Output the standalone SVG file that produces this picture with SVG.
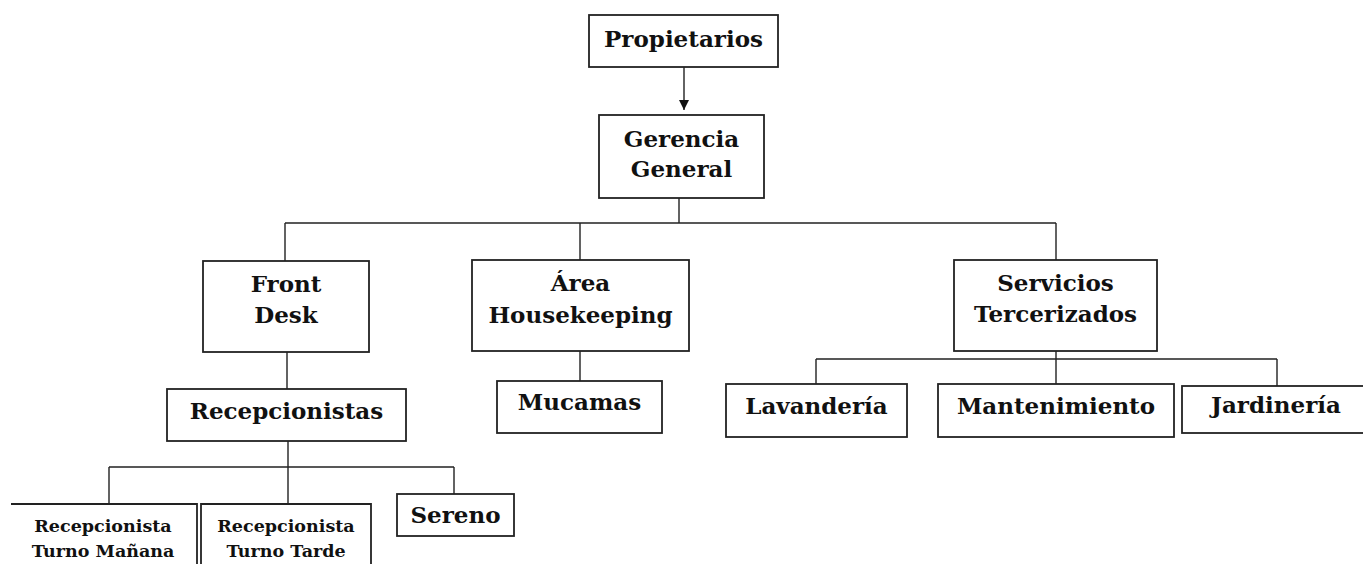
<svg xmlns="http://www.w3.org/2000/svg" width="1363" height="564" viewBox="0 0 1363 564">
<style>
.box{fill:#fff;stroke:#222;stroke-width:1.8}
.ln{fill:none;stroke:#222;stroke-width:1.4}
text{font-family:"DejaVu Serif","Liberation Serif",serif;font-weight:bold;fill:#111;text-anchor:middle}
.t{font-size:23px}
.s{font-size:17.5px}
</style>
<defs>
<marker id="ah" markerWidth="10" markerHeight="12" refX="10" refY="5" orient="auto" markerUnits="userSpaceOnUse">
<path d="M0,0 L10,5 L0,10 Z" fill="#111"/>
</marker>
</defs>
<rect width="1363" height="564" fill="#fff"/>
<g id="connectors">
<line class="ln" x1="684" y1="67" x2="684" y2="110" marker-end="url(#ah)"/>
<path class="ln" d="M679,198 V223 M285,223 H1056 M285,223 V261 M580,223 V260 M1056,223 V260"/>
<path class="ln" d="M287,352 V389 M580,351 V381"/>
<path class="ln" d="M1056,351 V384 M816,359 H1277 M816,359 V384 M1277,359 V386"/>
<path class="ln" d="M288,441 V504 M109,467 H454 M109,467 V504 M454,467 V494"/>
</g>
<g id="n-propietarios">
<rect class="box" x="589" y="15" width="189" height="52"/>
<text class="t" x="683.5" y="47">Propietarios</text>
</g>
<g id="n-gerencia">
<rect class="box" x="599" y="115" width="165" height="83"/>
<text class="t" x="681.5" y="147">Gerencia</text>
<text class="t" x="681.5" y="177">General</text>
</g>
<g id="n-frontdesk">
<rect class="box" x="203" y="261" width="166" height="91"/>
<text class="t" x="286" y="292">Front</text>
<text class="t" x="286" y="323">Desk</text>
</g>
<g id="n-housekeeping">
<rect class="box" x="472" y="260" width="217" height="91"/>
<text class="t" x="580.5" y="291">Área</text>
<text class="t" x="580.5" y="323">Housekeeping</text>
</g>
<g id="n-servicios">
<rect class="box" x="954" y="260" width="203" height="91"/>
<text class="t" x="1055.5" y="291">Servicios</text>
<text class="t" x="1055.5" y="322">Tercerizados</text>
</g>
<g id="n-recepcionistas">
<rect class="box" x="167" y="389" width="239" height="52"/>
<text class="t" x="286.5" y="419">Recepcionistas</text>
</g>
<g id="n-mucamas">
<rect class="box" x="497" y="381" width="165" height="52"/>
<text class="t" x="579.5" y="410">Mucamas</text>
</g>
<g id="n-lavanderia">
<rect class="box" x="726" y="384" width="181" height="53"/>
<text class="t" x="816.5" y="414">Lavandería</text>
</g>
<g id="n-mantenimiento">
<rect class="box" x="938" y="384" width="236" height="53"/>
<text class="t" x="1056" y="414">Mantenimiento</text>
</g>
<g id="n-jardineria">
<rect class="box" x="1182" y="386" width="190" height="47"/>
<text class="t" x="1276" y="413">Jardinería</text>
</g>
<g id="n-manana">
<path class="box" d="M11,504 H197 V570" fill="none"/>
<text class="s" x="103" y="532">Recepcionista</text>
<text class="s" x="103" y="557">Turno Mañana</text>
</g>
<g id="n-tarde">
<path class="box" d="M201,570 V504 H371 V570"/>
<text class="s" x="286" y="532">Recepcionista</text>
<text class="s" x="286" y="557">Turno Tarde</text>
</g>
<g id="n-sereno">
<rect class="box" x="397" y="494" width="117" height="42"/>
<text class="t" x="455.5" y="523">Sereno</text>
</g>
</svg>
